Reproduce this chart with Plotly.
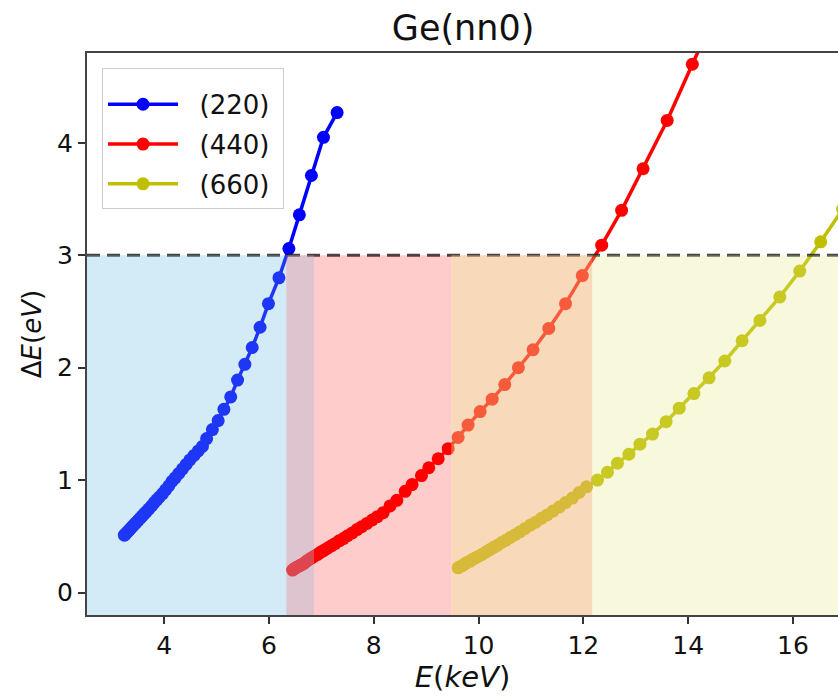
import plotly.graph_objects as go

# ---- data ----
e220 = [3.24, 3.25, 3.27, 3.29, 3.31, 3.34, 3.37, 3.40, 3.43, 3.46, 3.50, 3.54, 3.58, 3.62, 3.66,
        3.71, 3.76, 3.81, 3.86, 3.91, 3.97, 4.03, 4.09, 4.15, 4.21, 4.28, 4.35, 4.42, 4.49, 4.57,
        4.65, 4.73, 4.81, 4.92, 5.03, 5.14, 5.27, 5.40, 5.54, 5.68, 5.83, 5.99, 6.19, 6.38, 6.58,
        6.81, 7.04, 7.30]
de220 = [0.51, 0.515, 0.525, 0.535, 0.545, 0.56, 0.575, 0.59, 0.605, 0.62, 0.64, 0.66, 0.68, 0.70, 0.72,
         0.745, 0.77, 0.80, 0.825, 0.85, 0.88, 0.915, 0.95, 0.99, 1.02, 1.06, 1.10, 1.14, 1.18, 1.22,
         1.26, 1.30, 1.37, 1.45, 1.53, 1.63, 1.74, 1.89, 2.03, 2.18, 2.36, 2.57, 2.80, 3.06, 3.36,
         3.71, 4.05, 4.27]

e440 = [6.45, 6.48, 6.51, 6.55, 6.59, 6.63, 6.67, 6.72, 6.77, 6.82, 6.87, 6.93, 6.99, 7.05, 7.12,
        7.19, 7.26, 7.34, 7.42, 7.50, 7.59, 7.68, 7.77, 7.87, 7.97, 8.07, 8.18, 8.31, 8.44, 8.60,
        8.73, 8.91, 9.05, 9.23, 9.42, 9.61, 9.80, 10.03, 10.26, 10.50, 10.76, 11.04, 11.34, 11.66,
        11.98, 12.35, 12.73, 13.14, 13.60, 14.08, 14.62]
de440 = [0.20, 0.21, 0.22, 0.23, 0.24, 0.25, 0.26, 0.28, 0.295, 0.31, 0.325, 0.34, 0.36, 0.375, 0.395,
         0.415, 0.435, 0.46, 0.48, 0.505, 0.53, 0.56, 0.585, 0.615, 0.645, 0.675, 0.71, 0.77, 0.82, 0.90,
         0.96, 1.04, 1.11, 1.19, 1.28, 1.38, 1.49, 1.61, 1.72, 1.85, 2.00, 2.16, 2.35, 2.57,
         2.82, 3.09, 3.40, 3.77, 4.20, 4.70, 5.25]

e660 = [9.61, 9.65, 9.69, 9.74, 9.79, 9.84, 9.89, 9.95, 10.01, 10.07, 10.14, 10.21, 10.28, 10.36, 10.44,
        10.52, 10.61, 10.70, 10.79, 10.89, 10.99, 11.09, 11.20, 11.31, 11.42, 11.54, 11.66, 11.79, 11.92,
        12.06, 12.27, 12.46, 12.65, 12.87, 13.08, 13.32, 13.58, 13.83, 14.11, 14.40, 14.70, 15.03, 15.37,
        15.75, 16.13, 16.53, 16.95, 17.40]
de660 = [0.22, 0.23, 0.24, 0.255, 0.27, 0.28, 0.295, 0.31, 0.325, 0.34, 0.36, 0.38, 0.40, 0.42, 0.445,
         0.465, 0.49, 0.515, 0.54, 0.57, 0.60, 0.625, 0.66, 0.69, 0.725, 0.76, 0.80, 0.84, 0.89,
         0.94, 1.00, 1.07, 1.15, 1.23, 1.32, 1.41, 1.52, 1.64, 1.77, 1.91, 2.06, 2.24, 2.42,
         2.63, 2.86, 3.12, 3.41, 3.72]

series_names = ["(220)", "(440)", "(660)"]
series_colors = ["#0000ff", "#ff0000", "#bfbf00"]

threshold = 3.0
# shaded windows (x edges) and their overlay colours
window_edges = [2.527, 6.33, 6.86, 9.48, 12.17, 16.86]
window_colors = ["rgba(103,186,224,0.29)", "rgba(190,138,158,0.5)", "rgba(255,0,0,0.2)",
                 "rgba(241,182,118,0.5)", "rgba(230,230,130,0.27)"]

x_ticks = [4, 6, 8, 10, 12, 14, 16]
y_ticks = [0, 1, 2, 3, 4]
x_range = [2.527, 16.86]
y_range = [-0.2, 4.8]

NBSP = "\u00a0"

fig = go.Figure()
for xs, ys, name, col in zip([e220, e440, e660], [de220, de440, de660], series_names, series_colors):
    fig.add_trace(go.Scatter(x=xs, y=ys, mode="lines+markers", name=NBSP * 2 + name + NBSP,
                             legendgroup=name,
                             line=dict(color=col, width=3.5),
                             marker=dict(color=col, size=13)))

shapes = [dict(type="line", xref="x", yref="y", x0=x_range[0], x1=x_range[1], y0=threshold, y1=threshold,
               line=dict(color="rgba(35,35,35,0.85)", width=3, dash="13px,7px"), layer="above")]
for i, col in enumerate(window_colors):
    shapes.append(dict(type="rect", xref="x", yref="y", x0=window_edges[i], x1=window_edges[i + 1],
                       y0=y_range[0], y1=threshold, fillcolor=col, line=dict(width=0), layer="above"))

fig.update_layout(
    width=838, height=697,
    margin=dict(l=87, r=0, t=53, b=82, autoexpand=False),
    paper_bgcolor="white", plot_bgcolor="white",
    font=dict(family="DejaVu Sans", size=25, color="#111"),
    title=dict(text="Ge(nn0)", x=0.5526, xanchor="center", y=0.96, yanchor="middle",
               font=dict(size=35, family="DejaVu Sans", color="#111")),
    shapes=shapes,
    showlegend=True,
    legend=dict(x=0.02, y=0.973, xanchor="left", yanchor="top",
                bgcolor="rgba(255,255,255,0.85)", bordercolor="#cccccc", borderwidth=1,
                tracegroupgap=3, itemwidth=70,
                title=dict(text=NBSP, font=dict(size=9)),
                font=dict(size=26, family="DejaVu Sans", color="#111")),
)
fig.update_xaxes(range=x_range, tickvals=x_ticks, ticks="outside", ticklen=7, automargin=False,
                 tickwidth=1.5, tickcolor="#333", showline=True, linecolor="#444", linewidth=2,
                 mirror=True, showgrid=False, zeroline=False, tickfont=dict(size=25),
                 title=dict(text="<i>E</i>(<i>keV</i>)", font=dict(size=29), standoff=6))
fig.update_yaxes(range=y_range, tickvals=y_ticks, ticks="outside", ticklen=7, automargin=False,
                 tickwidth=1.5, tickcolor="#333", showline=True, linecolor="#444", linewidth=2,
                 showgrid=False, zeroline=False, tickfont=dict(size=25),
                 title=dict(text="Δ<i>E</i>(<i>eV</i>)", font=dict(size=26), standoff=8))

fig.write_html("out.html", config={"displayModeBar": False},
               post_script="document.body.style.margin='0px';document.body.style.padding='0px';")
